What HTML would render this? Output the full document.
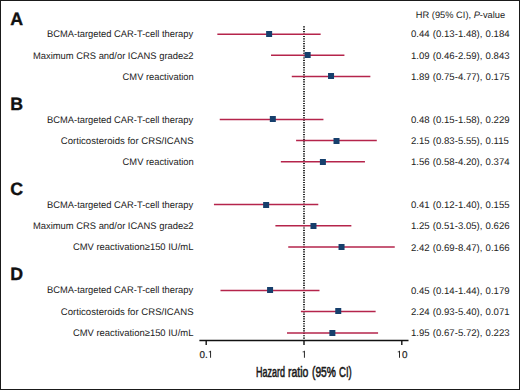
<!DOCTYPE html>
<html><head><meta charset="utf-8"><style>
html,body{margin:0;padding:0;background:#fff;}
body{width:520px;height:390px;overflow:hidden;position:relative;}
.frame{position:absolute;left:0;top:0;width:518px;height:388px;border:1px solid #1a1a1a;}
svg{position:absolute;left:0;top:0;}
text{font-family:"Liberation Sans",sans-serif;fill:#222;text-rendering:geometricPrecision;}
.pl{font-size:17.8px;font-weight:bold;fill:#111;stroke:#111;stroke-width:0.35px;}
.lb{font-size:9.6px;}
.vl{font-size:9.6px;word-spacing:0.5px;}
.tk{font-size:9.9px;stroke:#222;stroke-width:0.2px;}
.hd{font-size:9.3px;}
.ax{position:absolute;top:365.3px;font-family:"Liberation Sans",sans-serif;font-weight:normal;font-size:14px;color:#1a1a1a;-webkit-text-stroke:0.55px #1a1a1a;transform-origin:0 0;white-space:nowrap;line-height:1;}
</style></head><body>
<div class="frame"></div>
<svg width="520" height="390" viewBox="0 0 520 390">
<text x="415.8" y="17.9" class="hd">HR (95% CI), <tspan font-style="italic">P</tspan>-value</text>
<path d="M303 26.30h2v1.2h-2zM303 28.69h2v1.2h-2zM303 31.09h2v1.2h-2zM303 33.48h2v1.2h-2zM303 35.88h2v1.2h-2zM303 38.27h2v1.2h-2zM303 40.66h2v1.2h-2zM303 43.06h2v1.2h-2zM303 45.45h2v1.2h-2zM303 47.85h2v1.2h-2zM303 50.24h2v1.2h-2zM303 52.63h2v1.2h-2zM303 55.03h2v1.2h-2zM303 57.42h2v1.2h-2zM303 59.82h2v1.2h-2zM303 62.21h2v1.2h-2zM303 64.60h2v1.2h-2zM303 67.00h2v1.2h-2zM303 69.39h2v1.2h-2zM303 71.79h2v1.2h-2zM303 74.18h2v1.2h-2zM303 76.57h2v1.2h-2zM303 78.97h2v1.2h-2zM303 81.36h2v1.2h-2zM303 83.76h2v1.2h-2zM303 86.15h2v1.2h-2zM303 88.54h2v1.2h-2zM303 90.94h2v1.2h-2zM303 93.33h2v1.2h-2zM303 95.73h2v1.2h-2zM303 98.12h2v1.2h-2zM303 100.51h2v1.2h-2zM303 102.91h2v1.2h-2zM303 105.30h2v1.2h-2zM303 107.70h2v1.2h-2zM303 110.09h2v1.2h-2zM303 112.48h2v1.2h-2zM303 114.88h2v1.2h-2zM303 117.27h2v1.2h-2zM303 119.67h2v1.2h-2zM303 122.06h2v1.2h-2zM303 124.45h2v1.2h-2zM303 126.85h2v1.2h-2zM303 129.24h2v1.2h-2zM303 131.64h2v1.2h-2zM303 134.03h2v1.2h-2zM303 136.42h2v1.2h-2zM303 138.82h2v1.2h-2zM303 141.21h2v1.2h-2zM303 143.61h2v1.2h-2zM303 146.00h2v1.2h-2zM303 148.39h2v1.2h-2zM303 150.79h2v1.2h-2zM303 153.18h2v1.2h-2zM303 155.58h2v1.2h-2zM303 157.97h2v1.2h-2zM303 160.36h2v1.2h-2zM303 162.76h2v1.2h-2zM303 165.15h2v1.2h-2zM303 167.55h2v1.2h-2zM303 169.94h2v1.2h-2zM303 172.33h2v1.2h-2zM303 174.73h2v1.2h-2zM303 177.12h2v1.2h-2zM303 179.52h2v1.2h-2zM303 181.91h2v1.2h-2zM303 184.30h2v1.2h-2zM303 186.70h2v1.2h-2zM303 189.09h2v1.2h-2zM303 191.49h2v1.2h-2zM303 193.88h2v1.2h-2zM303 196.27h2v1.2h-2zM303 198.67h2v1.2h-2zM303 201.06h2v1.2h-2zM303 203.46h2v1.2h-2zM303 205.85h2v1.2h-2zM303 208.24h2v1.2h-2zM303 210.64h2v1.2h-2zM303 213.03h2v1.2h-2zM303 215.43h2v1.2h-2zM303 217.82h2v1.2h-2zM303 220.21h2v1.2h-2zM303 222.61h2v1.2h-2zM303 225.00h2v1.2h-2zM303 227.40h2v1.2h-2zM303 229.79h2v1.2h-2zM303 232.18h2v1.2h-2zM303 234.58h2v1.2h-2zM303 236.97h2v1.2h-2zM303 239.37h2v1.2h-2zM303 241.76h2v1.2h-2zM303 244.15h2v1.2h-2zM303 246.55h2v1.2h-2zM303 248.94h2v1.2h-2zM303 251.34h2v1.2h-2zM303 253.73h2v1.2h-2zM303 256.12h2v1.2h-2zM303 258.52h2v1.2h-2zM303 260.91h2v1.2h-2zM303 263.31h2v1.2h-2zM303 265.70h2v1.2h-2zM303 268.09h2v1.2h-2zM303 270.49h2v1.2h-2zM303 272.88h2v1.2h-2zM303 275.28h2v1.2h-2zM303 277.67h2v1.2h-2zM303 280.06h2v1.2h-2zM303 282.46h2v1.2h-2zM303 284.85h2v1.2h-2zM303 287.25h2v1.2h-2zM303 289.64h2v1.2h-2zM303 292.03h2v1.2h-2zM303 294.43h2v1.2h-2zM303 296.82h2v1.2h-2zM303 299.22h2v1.2h-2zM303 301.61h2v1.2h-2zM303 304.00h2v1.2h-2zM303 306.40h2v1.2h-2zM303 308.79h2v1.2h-2zM303 311.19h2v1.2h-2zM303 313.58h2v1.2h-2zM303 315.97h2v1.2h-2zM303 318.37h2v1.2h-2zM303 320.76h2v1.2h-2zM303 323.16h2v1.2h-2zM303 325.55h2v1.2h-2zM303 327.94h2v1.2h-2zM303 330.34h2v1.2h-2zM303 332.73h2v1.2h-2zM303 335.13h2v1.2h-2zM303 337.52h2v1.2h-2z" fill="#2b2b2b"/>
<text x="10.3" y="24.9" class="pl">A</text>
<text x="47.08" y="37.1" class="lb" textLength="146.04" lengthAdjust="spacingAndGlyphs">BCMA-targeted CAR-T-cell therapy</text>
<line x1="217.34" y1="34.15" x2="320.65" y2="34.15" stroke="#b5244b" stroke-width="1.5"/>
<rect x="266.13" y="31" width="6" height="6" fill="#163f6c"/>
<text x="411" y="37.2" class="vl">0.44 (0.13-1.48), 0.184</text>
<text x="32.93" y="58.7" class="lb" textLength="160.64" lengthAdjust="spacingAndGlyphs">Maximum CRS and/or ICANS grade≥2</text>
<line x1="271.02" y1="55.3" x2="344.42" y2="55.3" stroke="#b5244b" stroke-width="1.5"/>
<rect x="304.66" y="52" width="6" height="6" fill="#163f6c"/>
<text x="411" y="58.8" class="vl">1.09 (0.46-2.59), 0.843</text>
<text x="122.62" y="80.2" class="lb" textLength="71.08" lengthAdjust="spacingAndGlyphs">CMV reactivation</text>
<line x1="291.78" y1="76.4" x2="370.36" y2="76.4" stroke="#b5244b" stroke-width="1.5"/>
<rect x="328.04" y="73" width="6" height="6" fill="#163f6c"/>
<text x="411" y="80.3" class="vl">1.89 (0.75-4.77), 0.175</text>
<text x="10.3" y="109.9" class="pl">B</text>
<text x="47.08" y="122.6" class="lb" textLength="146.04" lengthAdjust="spacingAndGlyphs">BCMA-targeted CAR-T-cell therapy</text>
<line x1="219.73" y1="119.45" x2="323.43" y2="119.45" stroke="#b5244b" stroke-width="1.5"/>
<rect x="269.83" y="116" width="6" height="6" fill="#163f6c"/>
<text x="411" y="122.7" class="vl">0.48 (0.15-1.58), 0.229</text>
<text x="60.81" y="143.8" class="lb" textLength="132.73" lengthAdjust="spacingAndGlyphs">Corticosteroids for CRS/ICANS</text>
<line x1="296.09" y1="140.6" x2="376.79" y2="140.6" stroke="#b5244b" stroke-width="1.5"/>
<rect x="333.51" y="138" width="6" height="6" fill="#163f6c"/>
<text x="411" y="143.9" class="vl">2.15 (0.83-5.55), 0.115</text>
<text x="122.62" y="165.2" class="lb" textLength="71.08" lengthAdjust="spacingAndGlyphs">CMV reactivation</text>
<line x1="280.86" y1="161.8" x2="364.95" y2="161.8" stroke="#b5244b" stroke-width="1.5"/>
<rect x="319.89" y="159" width="6" height="6" fill="#163f6c"/>
<text x="411" y="165.3" class="vl">1.56 (0.58-4.20), 0.374</text>
<text x="10.3" y="194.9" class="pl">C</text>
<text x="47.08" y="207.9" class="lb" textLength="146.04" lengthAdjust="spacingAndGlyphs">BCMA-targeted CAR-T-cell therapy</text>
<line x1="213.94" y1="204.6" x2="318.29" y2="204.6" stroke="#b5244b" stroke-width="1.5"/>
<rect x="263.13" y="202" width="6" height="6" fill="#163f6c"/>
<text x="411" y="208.0" class="vl">0.41 (0.12-1.40), 0.155</text>
<text x="32.93" y="229.1" class="lb" textLength="160.64" lengthAdjust="spacingAndGlyphs">Maximum CRS and/or ICANS grade≥2</text>
<line x1="275.40" y1="225.8" x2="351.36" y2="225.8" stroke="#b5244b" stroke-width="1.5"/>
<rect x="310.48" y="223" width="6" height="6" fill="#163f6c"/>
<text x="411" y="229.2" class="vl">1.25 (0.51-3.05), 0.626</text>
<text x="72.92" y="250.4" class="lb" textLength="120.49" lengthAdjust="spacingAndGlyphs">CMV reactivation≥150 IU/mL</text>
<line x1="288.24" y1="247.1" x2="394.75" y2="247.1" stroke="#b5244b" stroke-width="1.5"/>
<rect x="338.54" y="244" width="6" height="6" fill="#163f6c"/>
<text x="411" y="250.5" class="vl">2.42 (0.69-8.47), 0.166</text>
<text x="10.3" y="279.9" class="pl">D</text>
<text x="47.08" y="293.4" class="lb" textLength="146.04" lengthAdjust="spacingAndGlyphs">BCMA-targeted CAR-T-cell therapy</text>
<line x1="220.49" y1="290.45" x2="319.49" y2="290.45" stroke="#b5244b" stroke-width="1.5"/>
<rect x="267.08" y="287" width="6" height="6" fill="#163f6c"/>
<text x="411" y="293.5" class="vl">0.45 (0.14-1.44), 0.179</text>
<text x="60.81" y="314.5" class="lb" textLength="132.73" lengthAdjust="spacingAndGlyphs">Corticosteroids for CRS/ICANS</text>
<line x1="300.92" y1="311.45" x2="375.63" y2="311.45" stroke="#b5244b" stroke-width="1.5"/>
<rect x="335.25" y="308" width="6" height="6" fill="#163f6c"/>
<text x="411" y="314.6" class="vl">2.24 (0.93-5.40), 0.071</text>
<text x="72.92" y="335.7" class="lb" textLength="120.49" lengthAdjust="spacingAndGlyphs">CMV reactivation≥150 IU/mL</text>
<line x1="286.99" y1="332.9" x2="378.07" y2="332.9" stroke="#b5244b" stroke-width="1.5"/>
<rect x="329.37" y="330" width="6" height="6" fill="#163f6c"/>
<text x="411" y="335.8" class="vl">1.95 (0.67-5.72), 0.223</text>
<line x1="199.4" y1="340.6" x2="408.5" y2="340.6" stroke="#111" stroke-width="1.5"/>
<line x1="206.20" y1="340.6" x2="206.20" y2="345" stroke="#111" stroke-width="1.4"/>
<text x="199.40" y="357.7" class="tk">0</text>
<text x="204.90" y="357.7" class="tk">.</text>
<path transform="translate(207.06,357.7) scale(0.00990,-0.00990)" d="M306 0H404V709H334C320 660 295 630 245 615C222 609 196 606 165 604V540H306Z" fill="#222"/>
<line x1="304.00" y1="340.6" x2="304.00" y2="345" stroke="#111" stroke-width="1.4"/>
<path transform="translate(300.90,357.7) scale(0.00990,-0.00990)" d="M306 0H404V709H334C320 660 295 630 245 615C222 609 196 606 165 604V540H306Z" fill="#222"/>
<line x1="401.80" y1="340.6" x2="401.80" y2="345" stroke="#111" stroke-width="1.4"/>
<path transform="translate(396.00,357.7) scale(0.00990,-0.00990)" d="M306 0H404V709H334C320 660 295 630 245 615C222 609 196 606 165 604V540H306Z" fill="#222"/>
<text x="402.10" y="357.7" class="tk">0</text>
</svg>
<div class="ax" style="left:255.76px;transform:scaleX(0.6405)">Hazard</div><div class="ax" style="left:287.71px;transform:scaleX(0.7504)">ratio</div><div class="ax" style="left:312.37px;transform:scaleX(0.7312)">(95%</div><div class="ax" style="left:339.41px;transform:scaleX(0.6850)">CI)</div>
</body></html>
